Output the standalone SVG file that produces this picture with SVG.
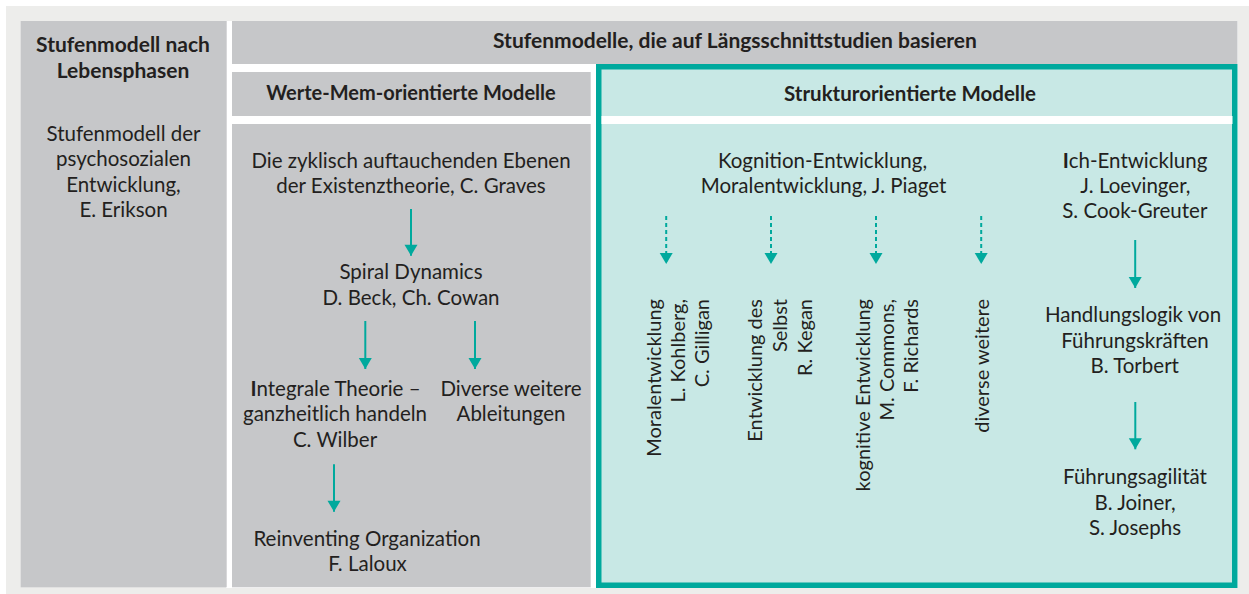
<svg xmlns="http://www.w3.org/2000/svg" width="1249" height="594" viewBox="0 0 1249 594">
<style>
text{font-family:Lato,"Liberation Sans",sans-serif;font-size:20.5px;fill:#231f20;text-anchor:middle}
.b{font-weight:bold}
.h{font-size:21px}
.w{font-size:20px}
.v{text-anchor:end;font-size:20px}
.gray{fill:#c6c7c9}
.ar{stroke:#00a99d;stroke-width:2;fill:none}
.da{stroke:#00a99d;stroke-width:2;fill:none;stroke-dasharray:4 3}
</style>
<defs>
<marker id="ah" markerUnits="userSpaceOnUse" markerWidth="14" markerHeight="14" viewBox="0 0 11 14" refX="11" refY="7" orient="auto">
<path d="M0,0.5 L11,7 L0,13.5 z" fill="#00a99d"/>
</marker>
</defs>
<rect x="6" y="6" width="1243" height="588" fill="#ededeb"/>
<rect x="226" y="21" width="1012" height="567" fill="#ffffff"/>

<g id="lebensphasen">
<rect class="gray" x="20.7" y="21" width="206" height="566.3"/>
<text class="b h" x="123" y="52.3">Stufenmodell nach</text>
<text class="b h" x="123" y="77.7">Lebensphasen</text>
<text x="123.5" y="140.5">Stufenmodell der</text>
<text x="123.5" y="166">psychosozialen</text>
<text x="123.5" y="191.7">Entwicklung,</text>
<text x="123.5" y="217.3">E. Erikson</text>
</g>

<g id="laengsschnitt">
<rect class="gray" x="232" y="21" width="1005.5" height="43"/>
<text class="b h" x="735" y="48.3">Stufenmodelle, die auf Längsschnittstudien basieren</text>
</g>

<g id="werte-header">
<rect class="gray" x="232" y="72" width="358.7" height="44"/>
<text class="b w" x="411" y="100">Werte-Mem-orientierte Modelle</text>
</g>

<g id="werte-body">
<rect class="gray" x="232" y="124" width="358.7" height="463.3"/>
</g>

<g id="struktur">
<rect x="598.75" y="66.75" width="636" height="518.5" fill="#c8e8e5" stroke="#00a99d" stroke-width="5.5"/>
<rect x="601.5" y="116" width="631" height="8" fill="#ffffff"/>
<text class="b" x="910" y="100.7">Strukturorientierte Modelle</text>
</g>

<g id="graves">
<text x="411" y="168.3">Die zyklisch auftauchenden Ebenen</text>
<text x="411" y="193.3">der Existenztheorie, C. Graves</text>
</g>
<g id="spiral">
<text x="411" y="279.3">Spiral Dynamics</text>
<text x="411" y="305">D. Beck, Ch. Cowan</text>
</g>
<g id="wilber">
<text x="335.5" y="395.7"><tspan class="b">I</tspan>ntegrale Theorie –</text>
<text x="335" y="420.7">ganzheitlich handeln</text>
<text x="335" y="446.7">C. Wilber</text>
</g>
<g id="diverse-ableitungen">
<text x="511" y="395.7">Diverse weitere</text>
<text x="511" y="420.7">Ableitungen</text>
</g>
<g id="laloux">
<text x="367" y="546">Reinventing Organization</text>
<text x="367.5" y="570.7">F. Laloux</text>
</g>

<g id="piaget">
<text x="822.5" y="168.3">Kognition-Entwicklung,</text>
<text x="823.5" y="193.3">Moralentwicklung, J. Piaget</text>
</g>
<g id="loevinger">
<text x="1135" y="168.3"><tspan class="b">I</tspan>ch-Entwicklung</text>
<text x="1135.4" y="193.3">J. Loevinger,</text>
<text x="1134.8" y="218.3">S. Cook-Greuter</text>
</g>
<g id="torbert">
<text x="1133" y="322.3">Handlungslogik von</text>
<text x="1135" y="347.7">Führungskräften</text>
<text x="1134.7" y="373.3">B. Torbert</text>
</g>
<g id="joiner">
<text x="1135" y="484.3">Führungsagilität</text>
<text x="1135" y="510">B. Joiner,</text>
<text x="1135" y="535">S. Josephs</text>
</g>

<g id="kohlberg">
<text class="v" transform="translate(661,299) rotate(-90)">Moralentwicklung</text>
<text class="v" transform="translate(685,299) rotate(-90)">L. Kohlberg,</text>
<text class="v" transform="translate(709,299) rotate(-90)">C. Gilligan</text>
</g>
<g id="kegan">
<text class="v" transform="translate(761.5,299) rotate(-90)">Entwicklung des</text>
<text class="v" transform="translate(786.5,299) rotate(-90)">Selbst</text>
<text class="v" transform="translate(812,299) rotate(-90)">R. Kegan</text>
</g>
<g id="commons">
<text class="v" transform="translate(869.5,299) rotate(-90)">kognitive Entwicklung</text>
<text class="v" transform="translate(893.5,299) rotate(-90)">M. Commons,</text>
<text class="v" transform="translate(917.5,299) rotate(-90)">F. Richards</text>
</g>
<g id="diverse-weitere">
<text class="v" transform="translate(988.5,299) rotate(-90)">diverse weitere</text>
</g>

<g id="connectors">
<line class="ar" x1="411" y1="209" x2="411" y2="255.7" marker-end="url(#ah)"/>
<line class="ar" x1="365.3" y1="321" x2="365.3" y2="369" marker-end="url(#ah)"/>
<line class="ar" x1="475" y1="321" x2="475" y2="369" marker-end="url(#ah)"/>
<line class="ar" x1="334" y1="464.3" x2="334" y2="511.7" marker-end="url(#ah)"/>
<line class="ar" x1="1135.2" y1="240" x2="1135.2" y2="288" marker-end="url(#ah)"/>
<line class="ar" x1="1135.3" y1="402" x2="1135.3" y2="449.3" marker-end="url(#ah)"/>
<line class="da" x1="666.2" y1="216" x2="666.2" y2="264" marker-end="url(#ah)"/>
<line class="da" x1="771" y1="216" x2="771" y2="264" marker-end="url(#ah)"/>
<line class="da" x1="876" y1="216" x2="876" y2="264" marker-end="url(#ah)"/>
<line class="da" x1="981.2" y1="216" x2="981.2" y2="264" marker-end="url(#ah)"/>
</g>
</svg>
